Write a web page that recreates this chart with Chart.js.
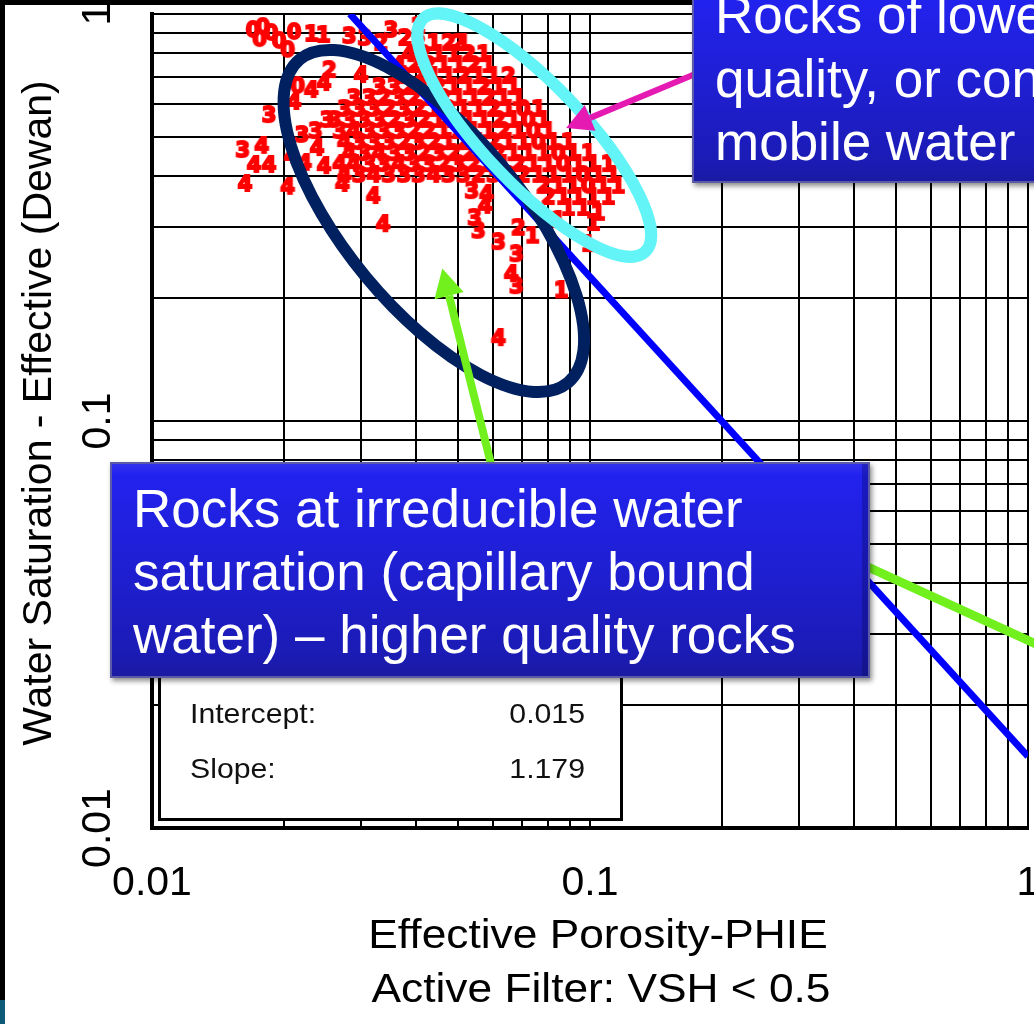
<!DOCTYPE html>
<html>
<head>
<meta charset="utf-8">
<script src="https://cdn.jsdelivr.net/npm/chart.js@4.4.1/dist/chart.umd.min.js"></script>
<style>
  html, body { margin: 0; padding: 0; background: #fff; }
  canvas { display: block; }
</style>
</head>
<body>
<canvas id="myChart" width="1034" height="1024"></canvas>
<script>
// axis ticks
const tickValues = [0.01, 0.1, 1];
const tickLabels = ['0.01', '0.1', '1'];
const gridSteps = [1, 2, 3, 4, 5, 6, 7, 8, 9];

// regression line (end points) and its stats
const linePhieEnds = [0.0283, 1];
const lineSwEnds = [1, 0.015];
const statNames = ['Intercept:', 'Slope:'];
const statValues = ['0.015', '1.179'];

// samples: effective porosity, water saturation, zone digit
const phie = [
  // scattered points around the cloud
  0.0170, 0.0179, 0.0187, 0.0176, 0.0195, 0.0211, 0.0231, 0.0246, 0.0204, 0.0282,
  0.0306, 0.0351, 0.0378, 0.0406, 0.0501, 0.0333, 0.0254, 0.0300, 0.0215, 0.0231,
  0.0247, 0.0211, 0.0185, 0.0251, 0.0220, 0.0236, 0.0161, 0.0178, 0.0171, 0.0185,
  0.0163, 0.0204, 0.0208, 0.0223, 0.0238, 0.0247, 0.0272, 0.0320, 0.0337, 0.0537,
  0.0580, 0.0576, 0.0545, 0.0556, 0.0618, 0.0679, 0.0686, 0.0738, 0.0661, 0.0679,
  0.0618, 0.0859, 0.0990, 0.1016, 0.0846, 0.1043,
  // dense cloud
  0.0406, 0.0440, 0.0475, 0.0514,
  0.0386, 0.0417, 0.0451, 0.0488, 0.0528, 0.0571,
  0.0366, 0.0396, 0.0428, 0.0463, 0.0501, 0.0542, 0.0586,
  0.0376, 0.0406, 0.0440, 0.0475, 0.0514, 0.0556, 0.0602, 0.0651,
  0.0330, 0.0357, 0.0386, 0.0417, 0.0451, 0.0488, 0.0528, 0.0571, 0.0618, 0.0668,
  0.0289, 0.0313, 0.0338, 0.0366, 0.0396, 0.0428, 0.0463, 0.0501, 0.0542, 0.0586, 0.0634, 0.0686,
  0.0275, 0.0297, 0.0321, 0.0347, 0.0376, 0.0406, 0.0440, 0.0475, 0.0514, 0.0556, 0.0602, 0.0651, 0.0704, 0.0762,
  0.0261, 0.0282, 0.0305, 0.0330, 0.0357, 0.0386, 0.0417, 0.0451, 0.0488, 0.0528, 0.0571, 0.0618, 0.0668, 0.0723, 0.0782,
  0.0268, 0.0289, 0.0313, 0.0338, 0.0366, 0.0396, 0.0428, 0.0463, 0.0501, 0.0542, 0.0586, 0.0634, 0.0686, 0.0742, 0.0803,
  0.0275, 0.0297, 0.0321, 0.0347, 0.0376, 0.0406, 0.0440, 0.0475, 0.0514, 0.0556, 0.0602, 0.0651, 0.0704, 0.0762, 0.0824, 0.0891,
  0.0282, 0.0305, 0.0330, 0.0357, 0.0386, 0.0417, 0.0451, 0.0488, 0.0528, 0.0571, 0.0618, 0.0668, 0.0723, 0.0782, 0.0846, 0.0915, 0.0990,
  0.0268, 0.0289, 0.0313, 0.0338, 0.0366, 0.0396, 0.0428, 0.0463, 0.0501, 0.0542, 0.0586, 0.0634, 0.0686, 0.0742, 0.0803, 0.0868, 0.0939, 0.1016, 0.1099,
  0.0275, 0.0297, 0.0321, 0.0347, 0.0376, 0.0406, 0.0440, 0.0475, 0.0514, 0.0556, 0.0602, 0.0651, 0.0704, 0.0762, 0.0824, 0.0891, 0.0964, 0.1043, 0.1128,
  0.0782, 0.0846, 0.0915, 0.0990, 0.1070, 0.1158,
  0.0803, 0.0868, 0.0939, 0.1016, 0.1099,
  0.0891, 0.0964
];
const swe = [
  0.903, 0.919, 0.888, 0.858, 0.849, 0.893, 0.883, 0.878, 0.807, 0.873,
  0.863, 0.903, 0.863, 0.924, 0.839, 0.839, 0.720, 0.700, 0.658, 0.643,
  0.669, 0.601, 0.558, 0.543, 0.499, 0.510, 0.458, 0.469, 0.421, 0.421,
  0.378, 0.372, 0.443, 0.426, 0.463, 0.418, 0.378, 0.353, 0.301, 0.363,
  0.357, 0.334, 0.312, 0.290, 0.272, 0.254, 0.295, 0.282, 0.227, 0.212,
  0.158, 0.207, 0.269, 0.303, 0.308, 0.321,
  0.839, 0.839, 0.839, 0.839,
  0.788, 0.788, 0.788, 0.788, 0.788, 0.788,
  0.741, 0.741, 0.741, 0.741, 0.741, 0.741, 0.741,
  0.696, 0.696, 0.696, 0.696, 0.696, 0.696, 0.696, 0.696,
  0.654, 0.654, 0.654, 0.654, 0.654, 0.654, 0.654, 0.654, 0.654, 0.654,
  0.615, 0.615, 0.615, 0.615, 0.615, 0.615, 0.615, 0.615, 0.615, 0.615, 0.615, 0.615,
  0.578, 0.578, 0.578, 0.578, 0.578, 0.578, 0.578, 0.578, 0.578, 0.578, 0.578, 0.578, 0.578, 0.578,
  0.543, 0.543, 0.543, 0.543, 0.543, 0.543, 0.543, 0.543, 0.543, 0.543, 0.543, 0.543, 0.543, 0.543, 0.543,
  0.510, 0.510, 0.510, 0.510, 0.510, 0.510, 0.510, 0.510, 0.510, 0.510, 0.510, 0.510, 0.510, 0.510, 0.510,
  0.479, 0.479, 0.479, 0.479, 0.479, 0.479, 0.479, 0.479, 0.479, 0.479, 0.479, 0.479, 0.479, 0.479, 0.479, 0.479,
  0.450, 0.450, 0.450, 0.450, 0.450, 0.450, 0.450, 0.450, 0.450, 0.450, 0.450, 0.450, 0.450, 0.450, 0.450, 0.450, 0.450,
  0.423, 0.423, 0.423, 0.423, 0.423, 0.423, 0.423, 0.423, 0.423, 0.423, 0.423, 0.423, 0.423, 0.423, 0.423, 0.423, 0.423, 0.423, 0.423,
  0.398, 0.398, 0.398, 0.398, 0.398, 0.398, 0.398, 0.398, 0.398, 0.398, 0.398, 0.398, 0.398, 0.398, 0.398, 0.398, 0.398, 0.398, 0.398,
  0.374, 0.374, 0.374, 0.374, 0.374, 0.374,
  0.351, 0.351, 0.351, 0.351, 0.351,
  0.330, 0.330
];
const zone = [
  0, 0, 0, 0, 0, 0, 1, 1, 0, 3,
  3, 3, 2, 2, 2, 2, 2, 4, 0, 4,
  4, 4, 3, 3, 3, 3, 3, 4, 4, 4,
  4, 4, 4, 4, 4, 4, 4, 4, 4, 3,
  4, 4, 3, 3, 3, 3, 2, 1, 4, 3,
  4, 1, 1, 1, 1, 1,
  2, 1, 2, 1,
  4, 2, 1, 1, 2, 1,
  4, 2, 2, 1, 1, 2, 1,
  3, 2, 1, 1, 2, 1, 1, 2,
  3, 3, 2, 1, 2, 1, 1, 2, 1, 1,
  3, 3, 2, 3, 2, 1, 2, 1, 1, 2, 1, 1,
  3, 3, 3, 2, 3, 2, 1, 2, 1, 1, 2, 1, 0, 1,
  3, 3, 3, 3, 2, 3, 2, 1, 2, 1, 1, 2, 1, 0, 1,
  3, 4, 3, 3, 3, 2, 2, 1, 2, 1, 1, 2, 1, 0, 1,
  4, 3, 3, 3, 2, 3, 2, 1, 2, 1, 2, 1, 1, 0, 1, 1,
  4, 3, 4, 3, 3, 2, 3, 2, 2, 1, 2, 1, 1, 1, 0, 1, 1,
  4, 4, 3, 3, 4, 3, 3, 2, 3, 2, 2, 1, 2, 1, 1, 0, 1, 1, 1,
  4, 3, 4, 3, 3, 3, 4, 3, 3, 2, 3, 2, 2, 1, 1, 1, 0, 1, 1,
  2, 1, 1, 0, 1, 1,
  2, 1, 1, 1, 1,
  1, 1
];

// callout texts
const noteLow = ['Rocks of lower', 'quality, or containing', 'mobile water'];
const noteIrr = ['Rocks at irreducible water', 'saturation (capillary bound', 'water) \u2013 higher quality rocks'];

const FONT = '"Liberation Sans", Arial, sans-serif';

// grid lines at every 1..9 step of each decade
const gridValues = [];
tickValues.slice(0, -1).forEach(d => gridSteps.forEach(s => gridValues.push(+(d * s).toPrecision(3))));
gridValues.push(tickValues[tickValues.length - 1]);

// small canvases with the red zone digits used as point styles
const digitImages = [0, 1, 2, 3, 4].map(d => {
  const c = document.createElement('canvas');
  c.width = 22; c.height = 24;
  const g = c.getContext('2d');
  g.fillStyle = '#ff0000';
  g.strokeStyle = '#ff0000';
  g.lineWidth = 2;
  g.lineJoin = 'miter';
  g.font = 'bold 21px "DejaVu Sans", sans-serif';
  g.textAlign = 'center';
  g.textBaseline = 'middle';
  g.strokeText(String(d), 11, 12);
  g.fillText(String(d), 11, 12);
  return c;
});

function stretchText(ctx, text, x, y, size, align, sx, color) {
  ctx.save();
  ctx.translate(x, y);
  ctx.scale(sx, 1);
  ctx.font = size + 'px ' + FONT;
  ctx.textAlign = align;
  ctx.textBaseline = 'alphabetic';
  ctx.fillStyle = color || '#000';
  ctx.fillText(text, 0, 0);
  ctx.restore();
}

function arrow(ctx, x1, y1, x2, y2, color, w, headLen, headW) {
  const a = Math.atan2(y2 - y1, x2 - x1);
  const bx = x2 - headLen * Math.cos(a), by = y2 - headLen * Math.sin(a);
  ctx.strokeStyle = color;
  ctx.lineWidth = w;
  ctx.beginPath(); ctx.moveTo(x1, y1); ctx.lineTo(bx, by); ctx.stroke();
  if (headLen > 0) {
    ctx.fillStyle = color;
    ctx.beginPath();
    ctx.moveTo(x2, y2);
    ctx.lineTo(bx + headW / 2 * Math.sin(a), by - headW / 2 * Math.cos(a));
    ctx.lineTo(bx - headW / 2 * Math.sin(a), by + headW / 2 * Math.cos(a));
    ctx.closePath(); ctx.fill();
  }
}

function calloutBox(ctx, x, y, w, h, lines, tx, ty, lh) {
  ctx.save();
  ctx.shadowColor = 'rgba(0,0,0,0.45)';
  ctx.shadowOffsetX = 2; ctx.shadowOffsetY = 3; ctx.shadowBlur = 5;
  const g = ctx.createLinearGradient(0, y, 0, y + h);
  g.addColorStop(0, '#3434f0');
  g.addColorStop(0.06, '#2222ee');
  g.addColorStop(0.5, '#1f1fd2');
  g.addColorStop(0.9, '#1b1bb4');
  g.addColorStop(1, '#1a1aa0');
  ctx.fillStyle = g;
  ctx.fillRect(x, y, w, h);
  ctx.restore();
  ctx.save();
  ctx.strokeStyle = '#5a5aa6';
  ctx.lineWidth = 2;
  ctx.strokeRect(x + 1, y + 1, w - 2, h - 2);
  ctx.fillStyle = 'rgba(0,0,60,0.25)';
  ctx.fillRect(x + w - 8, y + 2, 6, h - 4);
  ctx.restore();
  lines.forEach((t, i) => stretchText(ctx, t, tx, ty + i * lh, 53, 'left', 1, '#ffffff'));
}

const overlay = {
  id: 'overlay',
  beforeDraw(chart) {
    const ctx = chart.ctx;
    ctx.save();
    ctx.fillStyle = '#ffffff';
    ctx.fillRect(0, 0, chart.width, chart.height);
    ctx.fillStyle = '#000';
    ctx.fillRect(0, 0, chart.width, 5);
    ctx.fillRect(0, 0, 5, chart.height);
    ctx.fillStyle = '#0c5a78';
    ctx.fillRect(0, 1000, 5, 24);
    ctx.restore();
  },
  afterDatasetsDraw(chart) {
    const ctx = chart.ctx;
    const xs = chart.scales.x, ys = chart.scales.y;
    ctx.save();

    // regression stats box
    ctx.fillStyle = '#fff';
    ctx.fillRect(159, 600, 463, 220);
    ctx.strokeStyle = '#000';
    ctx.lineWidth = 3;
    ctx.strokeRect(159.5, 600.5, 462, 219);
    statNames.forEach((t, i) => {
      stretchText(ctx, t, 190, 723 + i * 55, 28, 'left', 1.08, '#111');
      stretchText(ctx, statValues[i], 585, 723 + i * 55, 28, 'right', 1.08, '#111');
    });

    // ellipses around the two groups of rocks
    ctx.lineWidth = 12;
    ctx.strokeStyle = '#002060';
    ctx.beginPath();
    ctx.ellipse(xs.getPixelForValue(0.0440), ys.getPixelForValue(0.310), 210, 88, 50.3 * Math.PI / 180, 0, Math.PI * 2);
    ctx.stroke();
    ctx.strokeStyle = '#62f4f6';
    ctx.beginPath();
    ctx.ellipse(xs.getPixelForValue(0.0746), ys.getPixelForValue(0.504), 161, 50, 46.4 * Math.PI / 180, 0, Math.PI * 2);
    ctx.stroke();

    // pointers
    arrow(ctx, 700, 72, xs.getPixelForValue(0.0882), ys.getPixelForValue(0.525), '#e51ab2', 6, 26, 28);
    arrow(ctx, 495, 480, xs.getPixelForValue(0.0460), ys.getPixelForValue(0.237), '#72f01e', 8, 28, 30);
    arrow(ctx, 820, 545, 1110, 678, '#72f01e', 9, 0, 0);

    // callouts
    calloutBox(ctx, 110, 462, 760, 216, noteIrr, 133, 527, 63);
    calloutBox(ctx, 692, -12, 420, 195, noteLow, 715, 33, 63.5);

    // tick labels
    tickValues.forEach((v, i) => {
      stretchText(ctx, tickLabels[i], xs.getPixelForValue(v), 895, 41, 'center', 1, '#000');
      ctx.save();
      ctx.translate(110, ys.getPixelForValue(v));
      ctx.rotate(-Math.PI / 2);
      ctx.font = '41px ' + FONT;
      ctx.textAlign = 'center';
      ctx.fillStyle = '#000';
      ctx.fillText(tickLabels[i], 0, 0);
      ctx.restore();
    });

    // axis titles
    stretchText(ctx, 'Effective Porosity-PHIE', 598, 948, 41, 'center', 1.08, '#000');
    stretchText(ctx, 'Active Filter: VSH < 0.5', 601, 1002, 41, 'center', 1.08, '#000');
    ctx.save();
    ctx.translate(51, 413);
    ctx.rotate(-Math.PI / 2);
    ctx.font = '41px ' + FONT;
    ctx.textAlign = 'center';
    ctx.fillStyle = '#000';
    ctx.fillText('Water Saturation - Effective (Dewan)', 0, 0);
    ctx.restore();

    ctx.restore();
  }
};

function logAxis() {
  return {
    type: 'logarithmic',
    min: tickValues[0],
    max: tickValues[tickValues.length - 1],
    afterBuildTicks: axis => { axis.ticks = gridValues.map(v => ({ value: v })); },
    ticks: { display: false },
    grid: { color: '#000', lineWidth: 2, drawTicks: false },
    border: { color: '#000', width: 4 },
    title: { display: false }
  };
}

const ctx = document.getElementById('myChart').getContext('2d');

const myChart = new Chart(ctx, {
    type: 'scatter',
    data: {
        datasets: [
            {
                label: 'Regression',
                data: linePhieEnds.map((x, i) => ({ x: x, y: lineSwEnds[i] })),
                showLine: true,
                borderColor: '#0000ff',
                borderWidth: 7,
                pointRadius: 0,
                order: 0
            },
            {
                label: 'PHIE vs SWE',
                data: phie.map((x, i) => ({ x: x, y: swe[i] })),
                pointStyle: c => digitImages[zone[c.dataIndex]],
                pointRadius: 5,
                order: 1
            }
        ]
    },
    options: {
        responsive: false,
        animation: false,
        devicePixelRatio: 1,
        layout: { padding: { left: 152, top: 14, right: 2, bottom: 196 } },
        scales: { x: logAxis(), y: logAxis() },
        plugins: { legend: { display: false }, tooltip: { enabled: false } }
    },
    plugins: [overlay]
});
</script>
</body>
</html>
